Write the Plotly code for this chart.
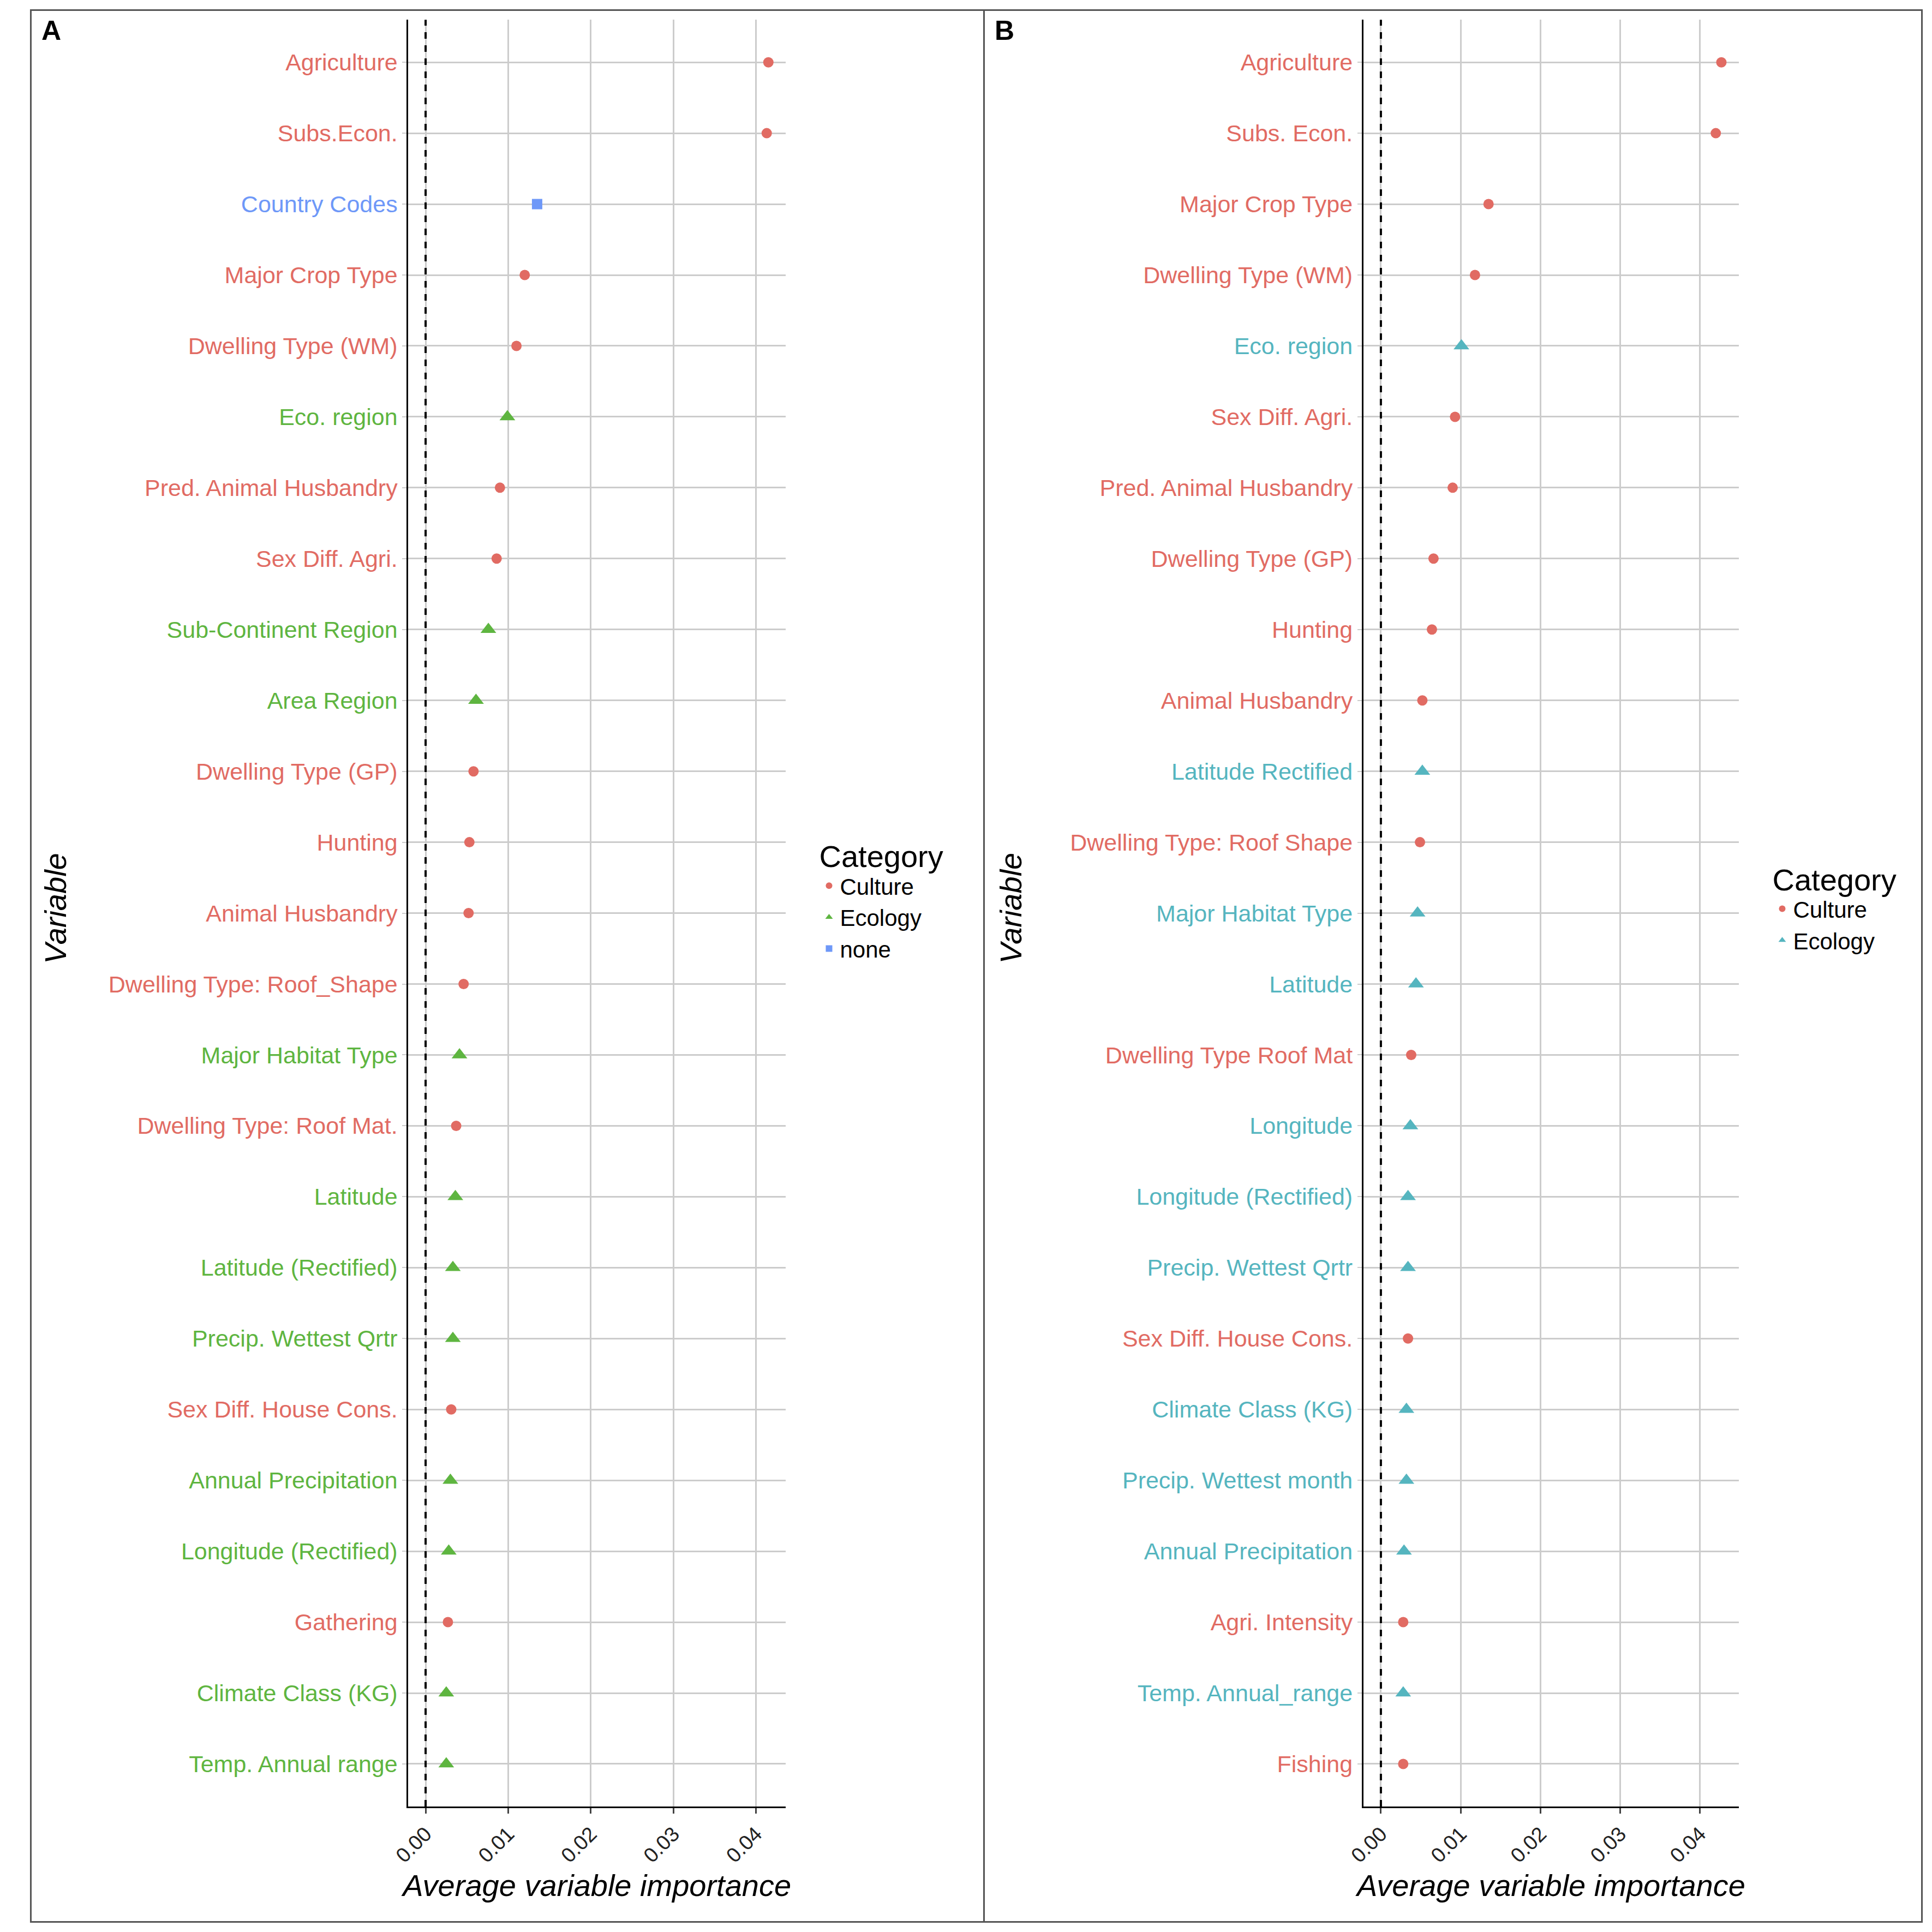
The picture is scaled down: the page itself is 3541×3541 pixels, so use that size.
import plotly.graph_objects as go

# Panel A data (top to bottom)
vars_a = ["Agriculture", "Subs.Econ.", "Country Codes", "Major Crop Type", "Dwelling Type (WM)",
          "Eco. region", "Pred. Animal Husbandry", "Sex Diff. Agri.", "Sub-Continent Region",
          "Area Region", "Dwelling Type (GP)", "Hunting", "Animal Husbandry",
          "Dwelling Type: Roof_Shape", "Major Habitat Type", "Dwelling Type: Roof Mat.",
          "Latitude", "Latitude (Rectified)", "Precip. Wettest Qrtr", "Sex Diff. House Cons.",
          "Annual Precipitation", "Longitude (Rectified)", "Gathering", "Climate Class (KG)",
          "Temp. Annual range"]
vals_a = [0.0415, 0.0413, 0.0135, 0.0120, 0.0110, 0.0099, 0.0090, 0.0086, 0.0076, 0.0061,
          0.0058, 0.0053, 0.0052, 0.0046, 0.0041, 0.0037, 0.0036, 0.0033, 0.0033, 0.0031,
          0.0030, 0.0028, 0.0027, 0.0025, 0.0025]
cats_a = ["Culture", "Culture", "none", "Culture", "Culture", "Ecology", "Culture", "Culture",
          "Ecology", "Ecology", "Culture", "Culture", "Culture", "Culture", "Ecology", "Culture",
          "Ecology", "Ecology", "Ecology", "Culture", "Ecology", "Ecology", "Culture", "Ecology",
          "Ecology"]

# Panel B data
vars_b = ["Agriculture", "Subs. Econ.", "Major Crop Type", "Dwelling Type (WM)", "Eco. region",
          "Sex Diff. Agri.", "Pred. Animal Husbandry", "Dwelling Type (GP)", "Hunting",
          "Animal Husbandry", "Latitude Rectified", "Dwelling Type: Roof Shape",
          "Major Habitat Type", "Latitude", "Dwelling Type Roof Mat", "Longitude",
          "Longitude (Rectified)", "Precip. Wettest Qrtr", "Sex Diff. House Cons.",
          "Climate Class (KG)", "Precip. Wettest month", "Annual Precipitation",
          "Agri. Intensity", "Temp. Annual_range", "Fishing"]
vals_b = [0.0427, 0.0420, 0.0135, 0.0118, 0.0101, 0.0093, 0.0090, 0.0066, 0.0064, 0.0052,
          0.0052, 0.0049, 0.0046, 0.0044, 0.0038, 0.0037, 0.0034, 0.0034, 0.0034, 0.0032,
          0.0032, 0.0029, 0.0028, 0.0028, 0.0028]
cats_b = ["Culture", "Culture", "Culture", "Culture", "Ecology", "Culture", "Culture", "Culture",
          "Culture", "Culture", "Ecology", "Culture", "Ecology", "Ecology", "Culture", "Ecology",
          "Ecology", "Ecology", "Culture", "Ecology", "Ecology", "Ecology", "Culture", "Ecology",
          "Culture"]

colors_a = {"Culture": "#E16B63", "Ecology": "#5EB540", "none": "#6E98F8"}
colors_b = {"Culture": "#E16B63", "Ecology": "#55B5BF"}
symbols = {"Culture": "circle", "Ecology": "triangle-up", "none": "square"}
sizes = {"Culture": 19, "Ecology": 25, "none": 19}

FONT = "Liberation Sans, Arial, sans-serif"
fig = go.Figure()

def add_panel(vars_, vals, cats, colors, xa, ya, legend):
    idx = list(range(len(vars_)))
    for c in colors:
        ys = [i for i in idx if cats[i] == c]
        fig.add_trace(go.Scatter(
            x=[vals[i] for i in ys], y=ys, mode="markers", name=c, legend=legend,
            marker=dict(color=colors[c], symbol=symbols[c], size=sizes[c]),
            xaxis=xa, yaxis=ya))
    return [f"<span style='color:{colors[cats[i]]}'>{v}</span>" for i, v in enumerate(vars_)]

tt_a = add_panel(vars_a, vals_a, cats_a, colors_a, "x", "y", "legend")
tt_b = add_panel(vars_b, vals_b, cats_b, colors_b, "x2", "y2", "legend2")

xcommon = dict(tickvals=[0, 0.01, 0.02, 0.03, 0.04], ticktext=["0.00", "0.01", "0.02", "0.03", "0.04"],
               tickangle=-45, showgrid=True, gridcolor="#CCCCCC", gridwidth=3, zeroline=False,
               showline=True, linecolor="black", linewidth=3, ticks="outside", ticklen=10,
               tickwidth=3, tickfont=dict(size=38, color="#222"),
               title=dict(text="<i>Average variable importance</i>", font=dict(size=56, color="black")))
ycommon = dict(tickvals=list(range(25)), range=[24.6, -0.6], showgrid=True, gridcolor="#CCCCCC",
               gridwidth=3, zeroline=False, showline=True, linecolor="black", linewidth=3,
               ticks="outside", ticklen=8, tickwidth=2, tickcolor="#CCCCCC",
               tickfont=dict(size=43))

fig.update_layout(
    plot_bgcolor="white", paper_bgcolor="white",
    margin=dict(l=0, r=0, t=0, b=0), font=dict(family=FONT),
    xaxis=dict(domain=[0.203, 0.401], range=[-0.0021, 0.0436], anchor="y", **xcommon),
    yaxis=dict(domain=[0.063, 0.992], anchor="x", ticktext=tt_a, **ycommon),
    xaxis2=dict(domain=[0.704, 0.901], range=[-0.0022, 0.0449], anchor="y2", **xcommon),
    yaxis2=dict(domain=[0.063, 0.992], anchor="x2", ticktext=tt_b, **ycommon),
    legend=dict(x=0.418, y=0.572, xanchor="left", yanchor="top", font=dict(size=42, color="black"),
                title=dict(text="Category", font=dict(size=56)), itemsizing="constant"),
    legend2=dict(x=0.918, y=0.560, xanchor="left", yanchor="top", font=dict(size=42, color="black"),
                 title=dict(text="Category", font=dict(size=56)), itemsizing="constant"),
    shapes=[
        dict(type="line", xref="x", yref="y domain", x0=0, x1=0, y0=0, y1=1,
             line=dict(color="black", width=4, dash="dash")),
        dict(type="line", xref="x2", yref="y2 domain", x0=0, x1=0, y0=0, y1=1,
             line=dict(color="black", width=4, dash="dash")),
        dict(type="rect", xref="paper", yref="paper", x0=0.005, x1=0.505, y0=0.003, y1=0.997,
             line=dict(color="#555", width=3)),
        dict(type="rect", xref="paper", yref="paper", x0=0.505, x1=0.997, y0=0.003, y1=0.997,
             line=dict(color="#555", width=3)),
    ],
    annotations=[
        dict(text="<b>A</b>", xref="paper", yref="paper", x=0.01, y=0.995, xanchor="left",
             yanchor="top", showarrow=False, font=dict(size=50, color="black")),
        dict(text="<b>B</b>", xref="paper", yref="paper", x=0.51, y=0.995, xanchor="left",
             yanchor="top", showarrow=False, font=dict(size=50, color="black")),
        dict(text="<i>Variable</i>", xref="paper", yref="paper", x=0.018, y=0.53, textangle=-90,
             xanchor="center", yanchor="middle", showarrow=False, font=dict(size=56, color="black")),
        dict(text="<i>Variable</i>", xref="paper", yref="paper", x=0.519, y=0.53, textangle=-90,
             xanchor="center", yanchor="middle", showarrow=False, font=dict(size=56, color="black")),
    ],
)

fig.write_html("out.html")
